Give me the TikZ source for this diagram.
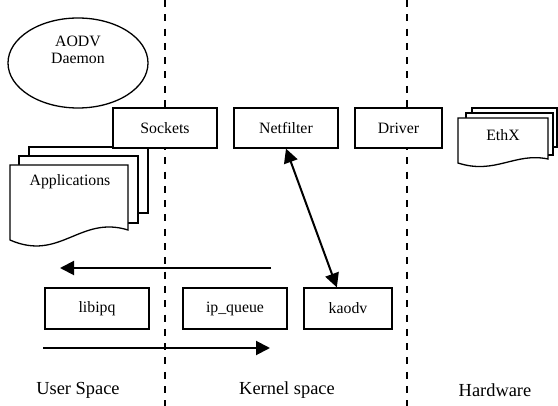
\documentclass[tikz,border=0pt]{standalone}
\usepackage{fontspec}
\setmainfont{Liberation Serif}
\usetikzlibrary{arrows.meta,calc}
\begin{document}
\begin{tikzpicture}[x=1pt,y=-1pt,
  box/.style={draw,fill=white,line width=1.3pt,inner sep=0pt,minimum height=40pt,font=\fontsize{15.8}{17}\selectfont},
  sheet/.style={draw,fill=white,line width=1.3pt,line join=miter},
  lbl/.style={font=\fontsize{18.4}{20}\selectfont,inner sep=0pt},
  txt/.style={font=\fontsize{15.8}{17}\selectfont,inner sep=0pt,align=center},
  sep/.style={line width=1.4pt,dash pattern=on 7pt off 7.3pt},
  flow/.style={line width=2pt,-{Triangle[length=14pt,width=14pt]}},
  flow2/.style={line width=2pt,{Triangle[length=14pt,width=14pt]}-{Triangle[length=14pt,width=14pt]}}]
\useasboundingbox (0,0) rectangle (558,406);
% separators
\coordinate (s1t) at (165,0); \coordinate (s1b) at (165,406);
\coordinate (s2t) at (407,0); \coordinate (s2b) at (407,406);
\draw[sep] (s1t) -- (s1b);
\draw[sep] (s2t) -- (s2b);
% AODV daemon
\draw[line width=1.3pt] (78,63) ellipse [x radius=70, y radius=45];
\node[txt] (aodv) at (78,50) {AODV\\Daemon};
% Applications stack
\draw[sheet] (29,147) rectangle (148,213);
\draw[sheet] (19,156) rectangle (138,223);
\draw[sheet] (10,165) -- (128,165) -- (128,230) .. controls (80,215) and (60,262) .. (10,240) -- cycle;
\node[txt] (apps) at (70,182) {Applications};
% top boxes
\node[box,minimum width=104pt] (sockets) at (165,128) {Sockets};
\node[box,minimum width=104pt] (netfilter) at (286,128) {Netfilter};
\node[box,minimum width=87pt] (driver) at (398.5,128) {Driver};
% EthX stack
\draw[sheet] (472,108) rectangle (557,147);
\draw[sheet] (466,113) rectangle (553,155);
\draw[sheet] (458,118) -- (548,118) -- (548,159) .. controls (515,152) and (495,175) .. (458,163) -- cycle;
\node[txt] (ethx) at (503,135) {EthX};
% bottom boxes
\node[box,minimum width=104pt,minimum height=41pt] (libipq) at (97,308.5) {libipq};
\node[box,minimum width=104pt,minimum height=41pt] (ipqueue) at (235,308.5) {ip\_queue};
\node[box,minimum width=88pt,minimum height=41pt] (kaodv) at (348,308.5) {kaodv};
% arrows
\coordinate (kin) at ($(kaodv.north west)!0.375!(kaodv.north east)$);
\draw[flow2] (netfilter.south) -- (kin);
\coordinate (a1s) at (271,268); \coordinate (a1e) at (60,268);
\draw[flow] (a1s) -- (a1e);
\coordinate (a2s) at (43,348); \coordinate (a2e) at (270,348);
\draw[flow] (a2s) -- (a2e);
% labels
\node[lbl] (user) at (78,390) {User Space};
\node[lbl] (kernel) at (287,390) {Kernel space};
\node[lbl] (hw) at (495,390) {Hardware};
\end{tikzpicture}
\end{document}
